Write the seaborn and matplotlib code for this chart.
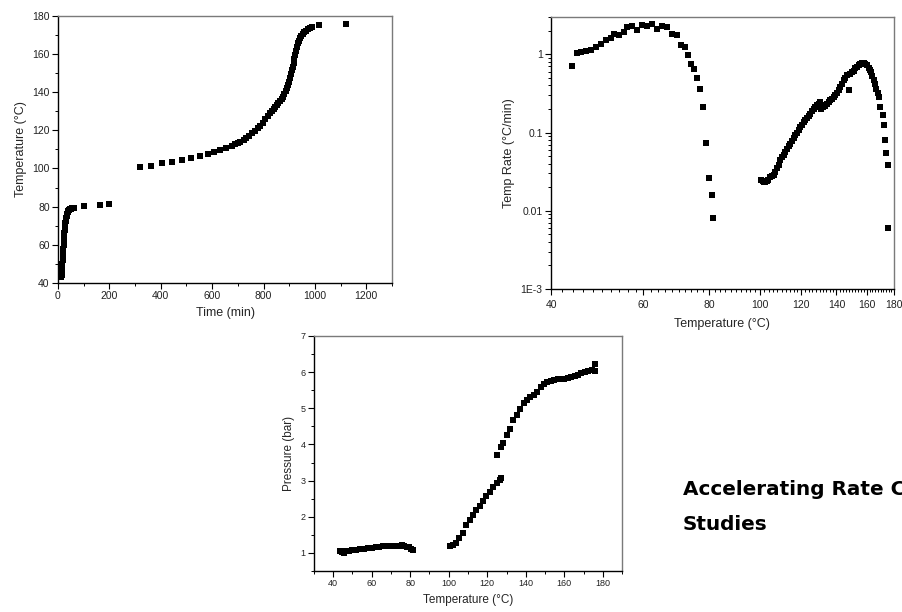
import numpy as np
import pandas as pd
import matplotlib
matplotlib.use("Agg")
import matplotlib.pyplot as plt
import matplotlib.ticker as mticker
import seaborn as sns

# ---------------- data ----------------
# Panel 1: Temperature vs time
time_min = [13, 14, 15, 16, 17, 18, 19, 20, 21, 22, 23, 24, 25, 26, 27, 28, 29, 30,
            32, 34, 36, 38, 40, 43, 46, 50, 56, 63, 100, 165, 200,
            320, 362, 406, 445, 482, 517, 551, 582, 608, 631, 654, 677, 690, 699, 710,
            722, 733, 745, 756, 768, 778, 787, 797, 806, 816, 826, 833, 839, 846, 852,
            858, 864, 870, 875, 880, 886, 891, 895, 899, 904, 907, 911, 914, 917, 920,
            923, 926, 930, 934, 938, 942, 947, 953, 959, 966, 973, 980, 988, 1017, 1122]
temp_time = [43, 44, 46, 48, 50, 52, 54, 56, 58, 60, 62, 64, 66, 67.5, 69, 70.5, 71.5, 72.5,
             74, 75.2, 76.2, 77, 77.6, 78.1, 78.5, 78.8, 79.1, 79.4, 80.1, 81.1, 81.4,
             100.7, 101.5, 102.8, 103.6, 104.5, 105.4, 106.6, 107.6, 108.7, 109.7, 110.8,
             112.0, 112.6, 113.2, 114.0, 115.0, 116.0, 117.1, 118.3, 119.7, 121.0, 122.3,
             124.0, 125.8, 127.3, 128.9, 130.0, 131.0, 132.2, 133.2, 134.1, 135.2, 136.4,
             137.6, 138.8, 140.3, 142.0, 143.6, 145.3, 147.2, 149.2, 151.3, 153.3, 155.4,
             157.4, 159.4, 161.4, 163.4, 165.5, 166.9, 168.2, 169.4, 170.5, 171.4, 172.1,
             172.8, 173.4, 173.9, 175.1, 175.6]

# Panel 2: Temperature rate vs temperature
rate_temp = [43.8, 44.8, 45.6, 46.6, 47.7, 48.8, 49.8, 50.9, 52.0, 52.8, 53.8, 55.0, 55.8,
             57.0, 58.3, 59.6, 60.9, 62.2, 63.6, 65.0, 66.5, 68.0, 69.5, 70.8, 72.1, 73.1,
             74.0, 75.0, 76.0, 77.0, 78.0, 79.0, 80.0, 81.0, 81.4,
             100.6, 101.2, 101.7, 102.3, 103.0, 103.8, 104.7, 105.5, 106.3, 107.0, 107.8,
             108.6, 109.4, 110.2, 111.0, 111.9, 112.7, 113.5, 114.3, 115.2, 116.0, 116.9,
             117.8, 118.6, 119.5, 120.4, 121.2, 122.1, 123.0, 123.9, 124.8, 125.7, 126.6,
             127.6, 128.5, 129.5, 130.4, 131.0, 131.8, 132.5, 133.3, 134.3, 135.3, 136.3,
             137.3, 138.3, 139.3, 140.3, 141.4, 142.4, 143.5, 144.5, 145.5, 146.6, 148.1,
             148.3, 149.9, 151.0, 152.1, 153.3, 154.4, 155.5, 156.6, 157.7, 158.9, 160.1,
             161.3, 162.2, 163.0, 164.0, 164.9, 165.9, 166.8, 167.7, 168.5, 169.8, 171.5,
             172.3, 173.6, 174.3, 175.4, 175.8]
rate_val = [0.71, 1.04, 1.07, 1.10, 1.15, 1.24, 1.37, 1.51, 1.63, 1.80, 1.75, 1.93, 2.23,
            2.28, 2.06, 2.34, 2.28, 2.41, 2.13, 2.28, 2.23, 1.84, 1.75, 1.30, 1.24, 0.97,
            0.76, 0.64, 0.50, 0.36, 0.21, 0.074, 0.026, 0.016, 0.008,
            0.025, 0.024, 0.0235, 0.0235, 0.024, 0.025, 0.027, 0.028, 0.029, 0.0315, 0.035,
            0.039, 0.044, 0.048, 0.052, 0.057, 0.062, 0.067, 0.072, 0.078, 0.085, 0.092,
            0.100, 0.108, 0.118, 0.126, 0.135, 0.144, 0.154, 0.165, 0.175, 0.188, 0.200,
            0.213, 0.225, 0.235, 0.246, 0.20, 0.21, 0.225, 0.217, 0.23, 0.245, 0.258,
            0.27, 0.285, 0.30, 0.325, 0.35, 0.38, 0.42, 0.47, 0.50, 0.54, 0.354,
            0.56, 0.59, 0.62, 0.66, 0.69, 0.72, 0.75, 0.775, 0.77, 0.76, 0.72,
            0.66, 0.63, 0.59, 0.53, 0.47, 0.42, 0.365, 0.32, 0.285, 0.213, 0.166,
            0.124, 0.081, 0.055, 0.039, 0.006]

# Panel 3: Pressure vs temperature
press_temp = [43.6, 44.5, 45.5, 46.5, 48, 50, 52, 54, 56, 58, 60, 62, 64, 66, 68, 70, 72, 74,
              75.5, 77, 78.5, 79.5, 80.5, 81.2, 81.6,
              100.6, 102.0, 103.8, 105.5, 107.3, 109.0, 110.8, 112.6, 114.3, 116.1, 117.8,
              119.6, 121.3, 123.1, 124.9, 126.6, 127.3, 125.3,
              127.0, 128.4, 130.1, 131.9, 133.6, 135.4, 137.2, 138.9, 140.7, 142.4, 144.2,
              146.0, 147.7, 149.5, 151.2, 153.0, 154.8, 156.5, 158.3, 160.1, 161.8, 163.6,
              165.4, 167.1, 168.9, 170.7, 172.4, 174.2, 175.8, 175.8]
press_val = [1.05, 1.02, 1.01, 1.04, 1.06, 1.08, 1.09, 1.10, 1.11, 1.13, 1.14, 1.16, 1.17,
             1.18, 1.19, 1.20, 1.20, 1.20, 1.21, 1.19, 1.17, 1.15, 1.12, 1.09, 1.07,
             1.18, 1.21, 1.28, 1.40, 1.56, 1.77, 1.92, 2.06, 2.18, 2.31, 2.44,
             2.57, 2.69, 2.83, 2.94, 3.03, 3.07, 3.71,
             3.92, 4.03, 4.26, 4.44, 4.67, 4.81, 4.97, 5.14, 5.23, 5.30, 5.37,
             5.46, 5.60, 5.67, 5.72, 5.76, 5.78, 5.80, 5.82, 5.82, 5.83, 5.86,
             5.89, 5.92, 5.97, 6.01, 6.04, 6.06, 6.04, 6.22]

title_text = "Accelerating Rate Calorimetry\nStudies"

# ---------------- style ----------------
sns.set_style("ticks")
plt.rcParams['font.family'] = ['Liberation Sans', 'DejaVu Sans']

fig = plt.figure(figsize=(9.02, 6.12), dpi=100)
ax1 = fig.add_axes([0.0643, 0.5376, 0.3703, 0.4368])
ax2 = fig.add_axes([0.6109, 0.5278, 0.3799, 0.4444])
ax3 = fig.add_axes([0.3481, 0.0670, 0.3415, 0.3840])

mk = dict(marker='s', color='black', s=25, linewidth=0, legend=False)

df1 = pd.DataFrame({'t': time_min, 'T': temp_time})
df2 = pd.DataFrame({'T': rate_temp, 'r': rate_val})
df3 = pd.DataFrame({'T': press_temp, 'P': press_val})

sns.scatterplot(data=df1, x='t', y='T', ax=ax1, **mk)
sns.scatterplot(data=df2, x='T', y='r', ax=ax2, **mk)
sns.scatterplot(data=df3, x='T', y='P', ax=ax3, **mk)


def style_axes(ax, tick_fs, lab_fs, pad=2):
    for side in ['left', 'bottom']:
        ax.spines[side].set_color('black')
        ax.spines[side].set_linewidth(1.0)
    for side in ['top', 'right']:
        ax.spines[side].set_visible(True)
        ax.spines[side].set_color('#7a7a7a')
        ax.spines[side].set_linewidth(1.0)
    ax.tick_params(which='major', direction='out', length=4, width=0.8,
                   labelsize=tick_fs, colors='black', pad=pad)
    ax.tick_params(which='minor', direction='out', length=2.2, width=0.7, colors='black')
    ax.xaxis.label.set_size(lab_fs)
    ax.yaxis.label.set_size(lab_fs)
    ax.tick_params(labelcolor='#222222')


# Panel 1
ax1.set_xlim(0, 1300)
ax1.set_ylim(40, 180)
ax1.xaxis.set_major_locator(mticker.MultipleLocator(200))
ax1.xaxis.set_minor_locator(mticker.MultipleLocator(100))
ax1.yaxis.set_major_locator(mticker.MultipleLocator(20))
ax1.yaxis.set_minor_locator(mticker.MultipleLocator(10))
ax1.set_xlabel('Time (min)', labelpad=4)
ax1.set_ylabel('Temperature (°C)')
style_axes(ax1, 7.5, 9)

# Panel 2
ax2.set_xscale('log')
ax2.set_yscale('log')
ax2.set_xlim(40, 180)
ax2.set_ylim(1e-3, 3)
xt = [40, 60, 80, 100, 120, 140, 160, 180]
ax2.xaxis.set_major_locator(mticker.FixedLocator(xt))
ax2.xaxis.set_major_formatter(mticker.FixedFormatter([str(v) for v in xt]))
ax2.xaxis.set_minor_locator(mticker.FixedLocator([v for v in range(42, 180, 2) if v not in xt]))
ax2.xaxis.set_minor_formatter(mticker.NullFormatter())
yt = [1e-3, 1e-2, 0.1, 1]
ax2.yaxis.set_major_locator(mticker.FixedLocator(yt))
ax2.yaxis.set_major_formatter(mticker.FixedFormatter(['1E-3', '0.01', '0.1', '1']))
ax2.yaxis.set_minor_locator(mticker.LogLocator(base=10, subs=np.arange(2, 10)))
ax2.yaxis.set_minor_formatter(mticker.NullFormatter())
ax2.set_xlabel('Temperature (°C)', labelpad=6)
ax2.set_ylabel('Temp Rate (°C/min)')
style_axes(ax2, 7.5, 9, pad=4)
ax2.tick_params(axis='y', pad=2)

# Panel 3
ax3.set_xlim(30, 190)
ax3.set_ylim(0.5, 7)
ax3.xaxis.set_major_locator(mticker.FixedLocator([40, 60, 80, 100, 120, 140, 160, 180]))
ax3.xaxis.set_minor_locator(mticker.MultipleLocator(10))
ax3.yaxis.set_major_locator(mticker.MultipleLocator(1))
ax3.yaxis.set_minor_locator(mticker.MultipleLocator(0.5))
ax3.set_xlabel('Temperature (°C)')
ax3.set_ylabel('Pressure (bar)')
style_axes(ax3, 6.5, 8.5)

fig.text(683 / 902, 1 - 530 / 612, title_text, fontsize=14.4, fontweight='bold',
         family=['DejaVu Sans'], color='black', ha='left', va='baseline',
         linespacing=2.05)

fig.savefig('out.png', dpi=100)
